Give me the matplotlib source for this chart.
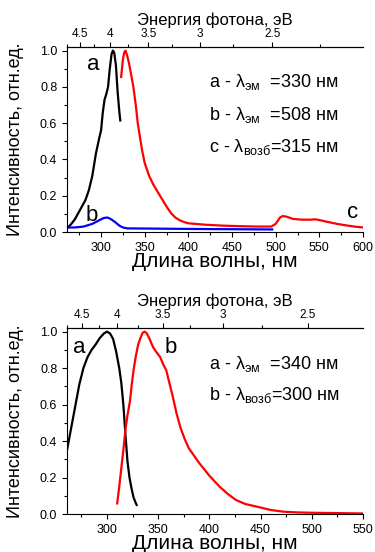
# Excitation / emission spectra, two panels with photon-energy top axis

import numpy as np
import matplotlib.pyplot as plt
from matplotlib.ticker import MultipleLocator, FixedLocator, FuncFormatter

plt.rcParams['font.family'] = ['Liberation Sans', 'DejaVu Sans']
plt.rcParams['mathtext.fontset'] = 'custom'
plt.rcParams['mathtext.rm'] = 'Liberation Sans'
plt.rcParams['mathtext.it'] = 'Liberation Sans'

# ---- top panel data ----
top_a_wl = [262, 266, 270, 274, 278, 282, 286, 290, 294, 298, 300, 302, 304, 306,
            308, 310, 312, 313.5, 315, 317, 319, 321, 322]
top_a_int = [0.025, 0.045, 0.07, 0.105, 0.14, 0.175, 0.23, 0.31, 0.43, 0.52, 0.56,
             0.66, 0.73, 0.76, 0.8, 0.9, 0.98, 1.0, 0.99, 0.92, 0.77, 0.66, 0.615]

top_b_wl = [262, 270, 280, 290, 298, 303, 307, 311, 316, 321, 325, 330, 400, 496]
top_b_int = [0.025, 0.025, 0.03, 0.045, 0.065, 0.077, 0.08, 0.072, 0.055, 0.035,
             0.025, 0.02, 0.017, 0.014]

top_c_wl = [323, 325, 326.5, 328, 330, 332, 334, 337, 340, 342, 344, 347, 350, 355,
            360, 365, 370, 375, 380, 385, 390, 395, 400, 420, 440, 460, 480, 495,
            500, 505, 508, 512, 520, 530, 540, 545, 550, 560, 570, 580, 590, 600]
top_c_int = [0.855, 0.95, 0.99, 1.0, 0.97, 0.93, 0.88, 0.8, 0.69, 0.6, 0.54, 0.45,
             0.38, 0.31, 0.26, 0.22, 0.18, 0.14, 0.105, 0.08, 0.065, 0.055, 0.048,
             0.04, 0.035, 0.032, 0.03, 0.03, 0.045, 0.08, 0.088, 0.085, 0.072, 0.068,
             0.068, 0.07, 0.066, 0.055, 0.045, 0.037, 0.03, 0.025]

# ---- bottom panel data ----
bot_a_wl = [261, 265, 269, 273, 277, 281, 285, 289, 293, 297, 300, 303, 306, 309,
            312, 314, 316, 318, 320, 322, 324, 326, 328, 329]
bot_a_int = [0.35, 0.47, 0.59, 0.71, 0.8, 0.86, 0.9, 0.93, 0.965, 0.99, 1.0, 0.99,
             0.96, 0.89, 0.8, 0.72, 0.6, 0.44, 0.29, 0.2, 0.14, 0.09, 0.062, 0.05]

bot_b_wl = [310, 312, 314, 316, 318, 320, 322.5, 324, 326, 328, 330.5, 333, 335, 337,
            339, 342, 345, 348, 352, 355, 358, 360, 364, 368, 372, 376, 380, 385,
            390, 395, 400, 405, 410, 418, 426, 435, 449, 460, 472, 485, 500, 525, 550]
bot_b_int = [0.058, 0.15, 0.25, 0.35, 0.46, 0.54, 0.62, 0.7, 0.79, 0.86, 0.93, 0.97,
             0.995, 1.0, 0.99, 0.955, 0.915, 0.89, 0.86, 0.82, 0.787, 0.74, 0.65,
             0.55, 0.47, 0.41, 0.36, 0.32, 0.28, 0.245, 0.21, 0.18, 0.15, 0.11, 0.077,
             0.055, 0.037, 0.022, 0.013, 0.009, 0.007, 0.005, 0.003]

energy_ticks = [4.5, 4.0, 3.5, 3.0, 2.5]
energy_minor = [4.75, 4.25, 3.75, 3.25, 2.75, 2.25]

fig = plt.figure(figsize=(3.75, 5.52), dpi=100)
ax1 = fig.add_axes([0.1787, 0.5797, 0.7893, 0.3352])
ax2 = fig.add_axes([0.1787, 0.0688, 0.7893, 0.3370])


def style(ax, xmax):
    ax.set_xlim(261, xmax)
    ax.set_ylim(0, 1.02)
    ax.spines['right'].set_visible(False)
    ax.xaxis.set_major_locator(MultipleLocator(50))
    ax.xaxis.set_minor_locator(MultipleLocator(25))
    ax.yaxis.set_major_locator(MultipleLocator(0.2))
    ax.yaxis.set_minor_locator(MultipleLocator(0.1))
    ax.yaxis.set_major_formatter(FuncFormatter(lambda v, p: f'{v:.1f}'))
    ax.tick_params(which='both', direction='out', labelsize=9, top=False, right=False)
    ax.tick_params(which='major', length=3.5, width=0.8)
    ax.tick_params(which='minor', length=2, width=0.8)
    ax.set_xlabel('Длина волны, нм', fontsize=15, labelpad=-1)
    ax.set_ylabel('Интенсивность, отн.ед.', fontsize=13)
    ax.yaxis.set_label_coords(-0.145, 0.5)
    sec = ax.secondary_xaxis('top', functions=(lambda x: 1240.0 / np.asarray(x, float),
                                               lambda e: 1240.0 / np.asarray(e, float)))
    sec.xaxis.set_major_locator(FixedLocator(energy_ticks))
    sec.xaxis.set_minor_locator(FixedLocator(energy_minor))
    sec.xaxis.set_major_formatter(FuncFormatter(lambda v, p: f'{v:g}'))
    sec.tick_params(which='both', direction='out', labelsize=8.5, pad=1.5)
    sec.tick_params(which='major', length=3.5, width=0.8)
    sec.tick_params(which='minor', length=2, width=0.8)
    sec.set_xlabel('Энергия фотона, эВ', fontsize=12, labelpad=2.5)
    return sec


style(ax1, 600)
style(ax2, 550)

lw = 1.6
ax1.plot(top_a_wl, top_a_int, color='black', lw=lw)
ax1.plot(top_b_wl, top_b_int, color='blue', lw=lw)
ax1.plot(top_c_wl, top_c_int, color='red', lw=lw)

ax2.plot(bot_a_wl, bot_a_int, color='black', lw=lw)
ax2.plot(bot_b_wl, bot_b_int, color='red', lw=lw)

# curve labels
ax1.text(0.068, 0.876, 'a', transform=ax1.transAxes, fontsize=16)
ax1.text(0.061, 0.061, 'b', transform=ax1.transAxes, fontsize=16)
ax1.text(0.946, 0.076, 'c', transform=ax1.transAxes, fontsize=16)
ax2.text(0.02, 0.867, 'a', transform=ax2.transAxes, fontsize=16)
ax2.text(0.331, 0.867, 'b', transform=ax2.transAxes, fontsize=16)

# legend-like notes
ax1.text(0.48, 0.784, r'a - $\mathrm{λ_{эм}}$  =330 нм', transform=ax1.transAxes, fontsize=13)
ax1.text(0.48, 0.605, r'b - $\mathrm{λ_{эм}}$  =508 нм', transform=ax1.transAxes, fontsize=13)
ax1.text(0.48, 0.432, r'c - $\mathrm{λ_{возб}}$=315 нм', transform=ax1.transAxes, fontsize=13)
ax2.text(0.48, 0.778, r'a - $\mathrm{λ_{эм}}$  =340 нм', transform=ax2.transAxes, fontsize=13)
ax2.text(0.48, 0.613, r'b - $\mathrm{λ_{возб}}$=300 нм', transform=ax2.transAxes, fontsize=13)

fig.savefig('out.png', dpi=100)
